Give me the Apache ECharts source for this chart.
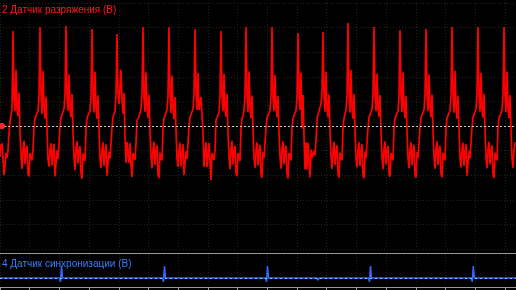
<!DOCTYPE html>
<html>
<head>
<meta charset="utf-8">
<script src="https://cdn.jsdelivr.net/npm/echarts@6/dist/echarts.min.js"></script>
<style>
html,body{margin:0;padding:0;background:#000;}
#chart{width:516px;height:290px;}
</style>
</head>
<body>
<div id="chart"></div>
<script>
// Time base: 50 ms per division, one sample per screen column
const MS_PER_DIV = 50;
const SAMPLE_MS = 50 / 29.7;

const channelTitles = ['2 Датчик разряжения (В)', '4 Датчик синхронизации (В)'];

// Channel 2: vacuum sensor, volts (relative to channel zero marker)
const vacuumVolts = [
  -1.26, -0.80, -0.70, -1.30, -2.00, -1.60, -1.10, -1.30, -1.00, -0.30, 0.18, 0.45, 0.65,
  3.86, 1.10, 0.60, 2.30, 0.70, 0.40, 1.35, -0.20, -1.25, -1.75, -0.95, -0.60, -1.55, -1.00, -0.80, -1.95, -2.05, -1.10, -1.25, -1.40, -0.95, -0.10, 0.30, 0.42, 0.38, 0.62, 1.20,
  4.02, 1.30, 0.50, 2.25, 0.80, 0.30, 1.20, -0.10, -1.35, -1.65, -1.00, -0.70, -1.60, -1.10, -0.72, -2.05, -2.10, -1.00, -1.35, -1.35, -0.05, 0.35, 0.40, 0.35, 0.70, 1.30,
  4.07, 1.20, 0.62, 2.10, 0.68, 0.36, 1.30, -0.22, -1.28, -1.80, -0.90, -0.62, -1.52, -1.02, -0.82, -1.92, -2.15, -1.12, -1.28, -1.42, -0.12, 0.30, 0.44, 0.40, 0.60, 1.22,
  3.94, 1.28, 0.55, 2.20, 0.75, 0.30, 1.25, -0.15, -1.32, -1.70, -1.02, -0.66, -1.62, -1.08, -0.75, -2.02, -2.08, -1.04, -1.32, -1.36, -0.06, 0.36, 0.40, 0.62, 1.25,
  3.74, 1.40, 0.90, 1.60, 2.28, 1.06, 0.50, 1.34, -0.40, -1.50, -0.65, -1.10, -1.50, -0.69, -1.60, -2.07, -1.10, -1.25, -1.38, -0.69, 0.24, 0.30, 0.37, 0.45, 0.70, 1.30,
  4.02, 1.15, 0.58, 2.18, 0.72, 0.34, 1.28, -0.18, -1.28, -1.72, -0.96, -0.64, -1.58, -1.04, -0.78, -1.96, -2.12, -1.08, -1.30, -1.40, -0.10, 0.32, 0.42, 0.38, 0.66, 1.24,
  4.02, 1.32, 0.52, 2.05, 0.78, 0.28, 1.18, -0.12, -1.34, -1.66, -1.00, -0.68, -1.64, -1.08, -0.74, -2.00, -2.06, -1.02, -1.34, -1.36, -0.04, 0.36, 0.38, 0.36, 0.68, 1.28,
  3.94, 1.50, 0.65, 2.15, 0.65, 0.90, 1.18, 1.18, -0.28, -1.67, -1.10, -0.65, -1.67, -1.20, -0.69, -1.50, -2.20, -1.10, -1.06, -1.38, -1.00, 0.24, 0.33, 0.37, 0.55, 1.20,
  3.86, 1.22, 0.60, 2.12, 0.70, 0.38, 1.30, -0.20, -1.26, -1.76, -0.94, -0.60, -1.56, -1.02, -0.80, -1.94, -2.04, -1.10, -1.26, -1.42, -0.14, 0.30, 0.42, 0.64, 1.22,
  4.02, 1.26, 0.56, 2.22, 0.74, 0.32, 1.24, -0.14, -1.30, -1.70, -0.98, -0.66, -1.60, -1.06, -0.76, -1.98, -2.10, -1.06, -1.30, -1.38, -0.08, 0.34, 0.40, 0.37, 0.64, 1.26,
  4.02, 1.18, 0.60, 2.08, 0.76, 0.36, 1.22, -0.20, -1.24, -1.74, -0.92, -0.62, -1.56, -1.00, -0.80, -1.90, -2.14, -1.10, -1.26, -1.40, -0.12, 0.30, 0.44, 0.40, 0.62, 1.20,
  3.78, 1.30, 0.65, 2.17, -0.10, 1.26, -0.40, -1.77, -0.67, -1.77, -0.67, -1.50, -2.09, -0.96, -1.30, -1.36, -1.00, -1.20, -0.60, 0.26, 0.47, 0.40, 0.55, 0.90, 1.40,
  3.82, 1.20, 0.58, 2.20, 0.72, 0.36, 1.28, -0.18, -1.28, -1.74, -0.96, -0.64, -1.58, -1.04, -0.78, -1.96, -2.10, -1.08, -1.30, -1.40, -0.10, 0.32, 0.40, 0.66, 1.24,
  4.19, 1.34, 0.54, 2.28, 0.74, 0.30, 1.30, -0.14, -1.32, -1.68, -1.00, -0.66, -1.62, -1.06, -0.74, -2.02, -2.12, -1.04, -1.32, -1.36, -0.06, 0.34, 0.40, 0.36, 0.68, 1.28,
  4.02, 1.24, 0.60, 2.12, 0.70, 0.38, 1.26, -0.20, -1.26, -1.76, -0.94, -0.62, -1.56, -1.02, -0.80, -1.94, -2.06, -1.10, -1.26, -1.40, -0.12, 0.30, 0.42, 0.40, 0.62, 1.22,
  3.90, 1.28, 0.56, 2.18, 0.76, 0.32, 1.22, -0.14, -1.30, -1.72, -0.98, -0.66, -1.60, -1.06, -0.76, -2.00, -2.10, -1.06, -1.30, -1.38, -0.08, 0.34, 0.40, 0.36, 0.66, 1.26,
  3.94, 1.20, 0.60, 2.10, 0.72, 0.36, 1.28, -0.18, -1.26, -1.74, -0.94, -0.62, -1.58, -1.02, -0.80, -1.96, -2.08, -1.10, -1.28, -1.40, -0.12, 0.32, 0.42, 0.40, 0.62, 1.22,
  4.02, 1.30, 0.54, 2.24, 0.74, 0.30, 1.24, -0.12, -1.32, -1.68, -1.00, -0.68, -1.62, -1.08, -0.74, -2.02, -2.10, -1.02, -1.32, -1.36, -0.06, 0.36, 0.40, 0.36, 0.68, 1.28,
  4.02, 1.22, 0.58, 2.16, 0.72, 0.34, 1.30, -0.16, -1.28, -1.72, -0.96, -0.64, -1.56, -1.04, -0.78, -1.96, -2.12, -1.08, -1.28, -1.40, -0.10, 0.32, 0.42, 0.38, 0.64, 1.24,
  4.02, 1.26, 0.56, 2.20, 0.74, 0.32, 1.26, -0.14, -1.30, -1.70, -0.98, -0.66
];

// Channel 4: sync sensor, time (ms) and volts
const syncTimeMs = [0, 100.2, 101.9, 103.5, 105.2, 273.6, 275.3, 276.9, 278.6, 447.0, 448.7, 450.3, 452.0, 533.7, 535.4, 537.0, 620.4, 622.1, 623.7, 625.4, 793.4, 795.1, 796.8, 798.5, 868.7];
const syncVolts  = [0, 0, -0.40, 1.25, 0, 0, -0.40, 1.25, 0, 0, -0.40, 1.25, 0, 0, -0.25, 0, 0, -0.40, 1.25, 0, 0, -0.40, 1.25, 0, 0];

const spanMs = vacuumVolts.length * SAMPLE_MS;
const vacuumData = vacuumVolts.map((v, i) => [i * SAMPLE_MS, v]);
const syncData = syncTimeMs.map((t, i) => [t, syncVolts[i]]);

const gridLine = { show: true, lineStyle: { color: '#23231a', width: 1, type: [1, 2] } };
const frameColor = '#9a9a9a';

const chart = echarts.init(document.getElementById('chart'), null, { renderer: 'canvas' });
chart.setOption({
  backgroundColor: '#000000',
  animation: false,
  title: [
    { text: channelTitles[0], left: 2, top: 5, padding: 0,
      textStyle: { color: '#ff1a1a', fontSize: 10, fontWeight: 'normal', fontFamily: 'Liberation Sans' } },
    { text: channelTitles[1], left: 2, top: 259.5, padding: 0,
      textStyle: { color: '#3a7cff', fontSize: 10, fontWeight: 'normal', fontFamily: 'Liberation Sans' } }
  ],
  grid: [
    { left: 0, right: 0, top: 3, height: 246 },
    { left: 0, right: 0, top: 254, height: 33.5 }
  ],
  xAxis: [
    { gridIndex: 0, type: 'value', min: 0, max: spanMs, interval: MS_PER_DIV,
      axisLabel: { show: false }, axisTick: { show: false }, offset: 4.5,
      axisLine: { show: true, onZero: false, lineStyle: { color: frameColor, width: 1 } },
      splitLine: gridLine },
    { gridIndex: 1, type: 'value', min: 0, max: spanMs, interval: MS_PER_DIV,
      axisLabel: { show: false },
      axisTick: { show: true, inside: false, length: 3, lineStyle: { color: frameColor } },
      axisLine: { show: true, onZero: false, lineStyle: { color: frameColor, width: 1 } },
      splitLine: gridLine }
  ],
  yAxis: [
    { gridIndex: 0, type: 'value', min: -5, max: 5, interval: 1,
      axisLabel: { show: false }, axisTick: { show: false }, axisLine: { show: false },
      splitLine: gridLine },
    { gridIndex: 1, type: 'value', min: -1, max: 2.5, show: false }
  ],
  series: [
    { type: 'line', xAxisIndex: 0, yAxisIndex: 0, data: vacuumData, showSymbol: false,
      lineStyle: { color: '#ff0000', width: 1.7 }, z: 3,
      markLine: { silent: true, symbol: 'none', label: { show: false },
        lineStyle: { color: '#c8c8c8', width: 1, type: [2, 2] },
        data: [{ yAxis: 0 }] },
      markPoint: { silent: true, symbol: 'circle', symbolSize: 6, label: { show: false },
        itemStyle: { color: '#ff2a2a' },
        data: [{ coord: [3.4, 0] }] } },
    { type: 'line', xAxisIndex: 1, yAxisIndex: 1, data: syncData, showSymbol: false,
      lineStyle: { color: '#2f6cff', width: 1.5 }, z: 3,
      markLine: { silent: true, symbol: 'none', label: { show: false },
        lineStyle: { color: '#9fbcff', width: 1, type: [2, 3] },
        data: [{ yAxis: 0 }] } }
  ]
});
</script>
</body>
</html>
